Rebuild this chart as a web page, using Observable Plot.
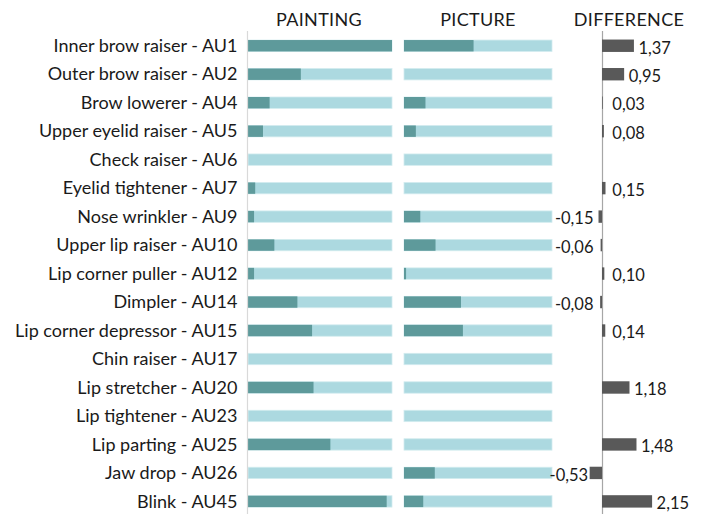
<!DOCTYPE html>
<html>
<head>
<meta charset="utf-8">
<script src="https://cdn.jsdelivr.net/npm/d3@7"></script>
<script src="https://cdn.jsdelivr.net/npm/@observablehq/plot@0.6"></script>
<style>
  html, body { margin: 0; padding: 0; background: #fff; }
  #wrap { position: relative; width: 702px; height: 514px; overflow: hidden; font-family: Lato, sans-serif; color: #1a1a1a; }
  .hdr { position: absolute; top: 6px; height: 26px; line-height: 26px; font-size: 18px; text-align: center; color: #1a1a1a; letter-spacing: 0.3px; }
  .panel { position: absolute; top: 0; }
</style>
</head>
<body>
<div id="wrap">
  <div class="hdr" style="left:247px;width:144px;">PAINTING</div>
  <div class="hdr" style="left:404px;width:148px;">PICTURE</div>
  <div class="hdr" style="left:560px;width:138px;">DIFFERENCE</div>
  <div class="panel" id="p1" style="left:0px;"></div>
  <div class="panel" id="p2" style="left:398px;"></div>
  <div class="panel" id="p3" style="left:556px;"></div>
</div>
<script>
const categories = [
  "Inner brow raiser - AU1",
  "Outer brow raiser - AU2",
  "Brow lowerer - AU4",
  "Upper eyelid raiser - AU5",
  "Check raiser - AU6",
  "Eyelid tightener - AU7",
  "Nose wrinkler - AU9",
  "Upper lip raiser - AU10",
  "Lip corner puller - AU12",
  "Dimpler - AU14",
  "Lip corner depressor - AU15",
  "Chin raiser - AU17",
  "Lip stretcher - AU20",
  "Lip tightener - AU23",
  "Lip parting - AU25",
  "Jaw drop - AU26",
  "Blink - AU45"
];
const painting = [1.0, 0.367, 0.15, 0.104, 0, 0.05, 0.042, 0.183, 0.042, 0.343, 0.445, 0, 0.455, 0, 0.572, 0, 0.963];
const picture  = [0.47, 0, 0.145, 0.08, 0, 0, 0.11, 0.213, 0.014, 0.385, 0.398, 0, 0, 0, 0, 0.208, 0.13];
const difference = [1.37, 0.95, 0.03, 0.08, null, 0.15, -0.15, -0.06, 0.10, -0.08, 0.14, null, 1.18, null, 1.48, -0.53, 2.15];

const rows = categories.map((c, i) => ({cat: c, painting: painting[i], picture: picture[i], diff: difference[i]}));
const diffRows = rows.filter(d => d.diff != null);

const DARK = "#5e9a9b";
const LIGHT = "#acd9e0";
const H = 514;
const yScale = {domain: categories, paddingInner: 0.6, paddingOuter: 0.28, align: 0.567, round: false};
const baseStyle = {fontFamily: "Lato, sans-serif", fontSize: "16px", color: "#1a1a1a", background: "transparent", overflow: "visible"};

const p1 = Plot.plot({
  width: 398, height: H,
  marginLeft: 248, marginRight: 6, marginTop: 31, marginBottom: 0,
  x: {domain: [0, 1], axis: null},
  y: {...yScale, label: null},
  style: baseStyle,
  marks: [
    Plot.barX(rows, {y: "cat", x1: 0, x2: 1, fill: LIGHT, stroke: "#d3ecef", strokeWidth: 0.8}),
    Plot.barX(rows, {y: "cat", x1: 0, x2: "painting", fill: DARK}),
    Plot.ruleX([0], {stroke: "#d9d9d9", strokeWidth: 1.2, dx: -1}),
    Plot.axisY({tickSize: 0, tickPadding: 11, fontSize: 18, label: null})
  ]
});
document.getElementById("p1").appendChild(p1);

const p2 = Plot.plot({
  width: 158, height: H,
  marginLeft: 6, marginRight: 4, marginTop: 31, marginBottom: 0,
  x: {domain: [0, 1], axis: null},
  y: {...yScale, axis: null},
  style: baseStyle,
  marks: [
    Plot.barX(rows, {y: "cat", x1: 0, x2: 1, fill: LIGHT, stroke: "#d3ecef", strokeWidth: 0.8}),
    Plot.barX(rows, {y: "cat", x1: 0, x2: "picture", fill: DARK})
  ]
});
document.getElementById("p2").appendChild(p2);

const fmt = v => v.toFixed(2).replace(".", ",");
const p3 = Plot.plot({
  width: 146, height: H,
  marginLeft: 4, marginRight: 12, marginTop: 31, marginBottom: 0,
  x: {domain: [-1.803, 3.777], axis: null},
  y: {...yScale, axis: null},
  style: baseStyle,
  marks: [
    Plot.ruleX([0], {stroke: "#a6a6a6", strokeWidth: 1.2}),
    Plot.barX(diffRows, {y: "cat", x: "diff", fill: "#595959", insetTop: -0.5, insetBottom: -0.5}),
    Plot.text(diffRows.filter(d => d.diff >= 0), {y: "cat", x: d => Math.max(d.diff, 0.25), text: d => fmt(d.diff), textAnchor: "start", dx: 4, dy: 2, fontSize: 16.5, fill: "#1a1a1a"}),
    Plot.text(diffRows.filter(d => d.diff < 0), {y: "cat", x: d => Math.min(d.diff, -0.3), text: d => fmt(d.diff), textAnchor: "end", dx: -2, dy: 2, fontSize: 16.5, fill: "#1a1a1a"})
  ]
});
document.getElementById("p3").appendChild(p3);
</script>
</body>
</html>
